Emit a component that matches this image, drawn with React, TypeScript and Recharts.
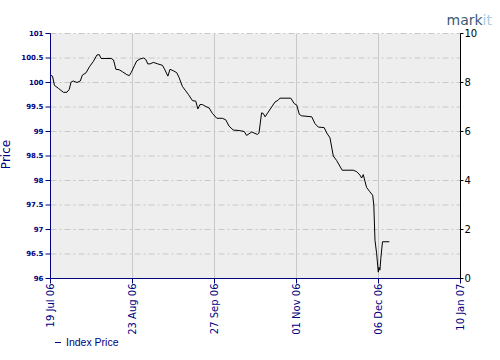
import React from 'react';
import { LineChart, Line, XAxis, YAxis, CartesianGrid, Legend } from 'recharts';

// days since 19 Jul 06
const days = [
  0, 0.85, 1.7, 3.4, 5.5, 7.0, 8.0, 8.8, 9.8, 11.3, 12.7, 13.6, 15.2, 16.6, 18.3, 19.8, 20.8, 21.6,
  25.9, 26.9, 27.9, 29.3, 30.7, 32.6, 33.6, 34.4, 35.8, 36.8, 38.2, 39.7, 40.7, 41.5, 42.5, 43.9,
  45.8, 47.8, 48.6, 50.1, 51.0, 52.4, 53.9, 54.9, 56.3, 57.7, 58.8, 60.6, 62.0, 62.9, 63.8, 64.8,
  66.3, 67.7, 69.1, 71.0, 73.3, 74.8, 76.2, 78.0, 80.5, 82.7, 83.7, 85.9, 88.3, 89.0, 90.1, 90.8,
  91.6, 92.7, 94.4, 95.8, 97.2, 97.9, 102.6, 104.0, 105.1, 106.2, 107.2, 111.5, 112.9, 114.3,
  116.8, 117.9, 119.3, 120.7, 122.1, 124.5, 129.2, 130.7, 132.1, 132.8, 133.5, 134.9, 136.3,
  137.5, 138.0, 138.5, 139.2, 139.9, 140.2, 140.6, 141.0, 141.7, 144.6,
];
const prices = [
  100.15, 100.13, 99.94, 99.88, 99.8, 99.8, 99.86, 100.01, 100.03, 100.0, 100.03, 100.15, 100.2,
  100.32, 100.43, 100.56, 100.57, 100.49, 100.49, 100.46, 100.27, 100.26, 100.22, 100.16, 100.14,
  100.2, 100.34, 100.44, 100.48, 100.5, 100.47, 100.38, 100.38, 100.41, 100.38, 100.35, 100.28,
  100.13, 100.27, 100.24, 100.2, 100.1, 99.92, 99.83, 99.76, 99.63, 99.62, 99.46, 99.55, 99.55,
  99.51, 99.48, 99.37, 99.27, 99.27, 99.24, 99.11, 99.03, 99.02, 99.0, 98.92, 98.99, 98.94, 98.97,
  99.38, 99.37, 99.3, 99.38, 99.5, 99.6, 99.64, 99.68, 99.68, 99.57, 99.54, 99.35, 99.32, 99.3,
  99.16, 99.09, 99.08, 98.97, 98.87, 98.5, 98.41, 98.21, 98.21, 98.18, 98.11, 98.05, 98.12, 97.86,
  97.77, 97.7, 97.5, 96.78, 96.51, 96.13, 96.23, 96.17, 96.41, 96.75, 96.75,
];

const xTicks = [0, 35, 70, 105, 140, 175];
const xTickLabels = ['19 Jul 06', '23 Aug 06', '27 Sep 06', '01 Nov 06', '06 Dec 06', '10 Jan 07'];
const leftTicks = [96, 96.5, 97, 97.5, 98, 98.5, 99, 99.5, 100, 100.5, 101];
const rightTicks = [0, 2, 4, 6, 8, 10];
const rightDomain = [0, 10];
const seriesName = 'Index Price';
const axisTitle = 'Price';

const data = days.map((d, i) => ({ d, price: prices[i], blank: i === 0 ? rightDomain[0] : i === 1 ? rightDomain[1] : null }));

const NAVY = '#000080';

const XTick = (props: any) => {
  const { x, y, payload } = props;
  const idx = xTicks.indexOf(payload.value);
  return (
    <text
      x={x}
      y={y}
      transform={`rotate(-90 ${x} ${y})`}
      textAnchor="end"
      dy="0.35em"
      fontFamily="DejaVu Sans"
      fontSize={10}
      fill={NAVY}
    >
      {idx >= 0 ? xTickLabels[idx] : ''}
    </text>
  );
};

const PriceLabel = (props: any) => {
  const vb = props.viewBox || { x: 0, y: 0, height: 0 };
  const x = vb.x + 9;
  const y = vb.y + vb.height / 2 - 1.5;
  return (
    <text
      x={x}
      y={y}
      transform={`rotate(-90 ${x} ${y})`}
      textAnchor="middle"
      fontFamily="DejaVu Sans"
      fontSize={12}
      fill={NAVY}
    >
      {axisTitle}
    </text>
  );
};

const LegendContent = () => (
  <div style={{ height: 18, display: 'flex', alignItems: 'center', paddingLeft: 55 }}>
    <span style={{ display: 'inline-block', width: 6, height: 1, background: NAVY, marginRight: 5 }} />
    <span style={{ fontFamily: 'Liberation Sans', fontSize: 10.5, color: NAVY }}>{seriesName}</span>
  </div>
);

export default function App() {
  return (
    <div style={{ position: 'absolute', left: 0, top: 0, width: 500, height: 360, background: '#fff' }}>
      <LineChart
        width={500}
        height={360}
        data={data}
        margin={{ top: 33.5, right: 0.5, left: 0.5, bottom: 9 }}
      >
        <CartesianGrid
          yAxisId="left"
          horizontal={false}
          vertical={true}
          stroke="#c8c8c8"
          fill="#eeeeee"
          fillOpacity={1}
        />
        <CartesianGrid
          yAxisId="left"
          horizontal={true}
          vertical={false}
          stroke="#c8c8c8"
          strokeDasharray="6 3 2 3"
        />
        <XAxis
          dataKey="d"
          type="number"
          domain={[0, 175]}
          ticks={xTicks}
          interval={0}
          height={54.5}
          tickSize={5}
          tickMargin={0}
          stroke={NAVY}
          tickLine={{ stroke: NAVY }}
          axisLine={{ stroke: NAVY }}
          tick={<XTick />}
        />
        <YAxis
          yAxisId="left"
          orientation="left"
          domain={[96, 101]}
          ticks={leftTicks}
          interval={0}
          width={50}
          tickSize={5}
          tickMargin={2}
          axisLine={{ stroke: NAVY }}
          tickLine={{ stroke: NAVY }}
          tick={{ fill: NAVY, fontFamily: 'DejaVu Sans', fontSize: 7, fontWeight: 'bold' }}
          label={<PriceLabel />}
        />
        <YAxis
          yAxisId="right"
          orientation="right"
          type="number"
          domain={rightDomain}
          allowDataOverflow
          ticks={rightTicks}
          interval={0}
          width={39}
          tickSize={3}
          tickMargin={1}
          axisLine={{ stroke: '#000' }}
          tickLine={{ stroke: '#000' }}
          tick={{ fill: '#000', fontFamily: 'DejaVu Sans', fontSize: 10, textAnchor: 'start' }}
        />
        <Legend
          verticalAlign="bottom"
          align="left"
          height={18}
          content={<LegendContent />}
          wrapperStyle={{ left: 0, width: 500 }}
        />
        <Line
          yAxisId="right"
          type="linear"
          dataKey="blank"
          stroke="none"
          strokeWidth={0}
          dot={false}
          activeDot={false}
          legendType="none"
          connectNulls={false}
          isAnimationActive={false}
        />
        <Line
          yAxisId="left"
          type="linear"
          dataKey="price"
          name={seriesName}
          stroke="#000"
          strokeWidth={1}
          dot={false}
          activeDot={false}
          isAnimationActive={false}
        />
      </LineChart>
      <svg
        width={500}
        height={40}
        style={{ position: 'absolute', left: 0, top: 0, pointerEvents: 'none' }}
      >
        <text x={446.5} y={25} fontFamily="DejaVu Sans" fontSize={14}>
          <tspan fill="#3b5a73">mark</tspan>
          <tspan fill="#a8cce0">it</tspan>
        </text>
      </svg>
    </div>
  );
}
